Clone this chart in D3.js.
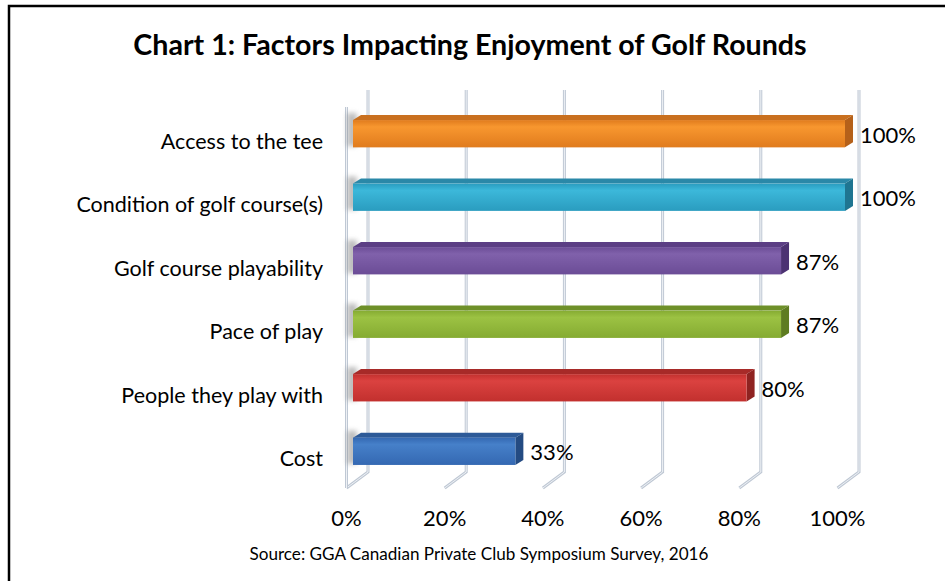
<!DOCTYPE html>
<html>
<head>
<meta charset="utf-8">
<script src="https://cdn.jsdelivr.net/npm/d3@7"></script>
<style>
  body { margin: 0; background: #fff; }
  svg { display: block; font-family: Lato, "Open Sans", sans-serif; }
</style>
</head>
<body>
<div id="chart"></div>
<script>
// Chart data
var categories = ["Access to the tee", "Condition of golf course(s)", "Golf course playability",
  "Pace of play", "People they play with", "Cost"]
var values = [1.00, 1.00, 0.87, 0.87, 0.80, 0.33]
var valueLabels = ["100%", "100%", "87%", "87%", "80%", "33%"]
var tickValues = [0, 0.2, 0.4, 0.6, 0.8, 1.0]
var tickLabels = ["0%", "20%", "40%", "60%", "80%", "100%"]

// bar colours: front (light, dark), top, side
var barColors = [
  {light: "#f8972f", dark: "#e07b1d", top: "#c9701f", side: "#b5611a"},
  {light: "#3cb8da", dark: "#2a9cbf", top: "#2a88a8", side: "#1f7591"},
  {light: "#8061ab", dark: "#6b4c96", top: "#5b3e84", side: "#4c3272"},
  {light: "#9cc243", dark: "#85ab32", top: "#6e9029", side: "#5e7c21"},
  {light: "#db4240", dark: "#c2302e", top: "#a72a28", side: "#8f2321"},
  {light: "#4680c9", dark: "#3468b2", top: "#2d5a98", side: "#244b82"}
]

var width = 945, height = 581

var svg = d3.select("#chart").append("svg")
  .attr("width", width)
  .attr("height", height)

// Outer frame (only top & left edges visible in the picture)
svg.append("rect")
  .attr("x", 9).attr("y", 6)
  .attr("width", 960).attr("height", 600)
  .attr("fill", "none")
  .attr("stroke", "#000")
  .attr("stroke-width", 2.5)

// Title
svg.append("text")
  .attr("x", 470).attr("y", 55)
  .attr("text-anchor", "middle")
  .style("font-size", "28.6px")
  .style("font-weight", "bold")
  .text("Chart 1: Factors Impacting Enjoyment of Golf Rounds")

// Scales: bars sit in the middle of the 3D depth
var xBar = d3.scaleLinear().domain([0, 1]).range([353, 845])
var xBack = d3.scaleLinear().domain([0, 1]).range([368, 859])
var xFront = d3.scaleLinear().domain([0, 1]).range([346.5, 837.5])
var y = d3.scaleBand().domain(categories).range([101, 484]).paddingInner(0.57).paddingOuter(0.3)

var wallTop = 90, wallBottom = 472, depthX = -21.5, depthY = 16

var defs = svg.append("defs")
var blur = defs.append("filter").attr("id", "shadow")
  .attr("x", "-50%").attr("y", "-50%").attr("width", "200%").attr("height", "200%")
blur.append("feGaussianBlur").attr("stdDeviation", 2.5)

barColors.forEach(function(c, i) {
  var g = defs.append("linearGradient").attr("id", "front" + i)
    .attr("x1", 0).attr("y1", 0).attr("x2", 0).attr("y2", 1)
  g.append("stop").attr("offset", "0%").attr("stop-color", c.dark)
  g.append("stop").attr("offset", "25%").attr("stop-color", c.light)
  g.append("stop").attr("offset", "100%").attr("stop-color", c.dark)
})

// Gridlines: back wall vertical + floor diagonal
function gridPath(v) {
  var xb = xBack(v)
  return "M" + xb + "," + wallTop + "L" + xb + "," + wallBottom +
    "L" + (xb + depthX) + "," + (wallBottom + depthY)
}
var grid = svg.append("g")
grid.selectAll(".gridOuter")
  .data(tickValues)
  .enter().append("path")
  .attr("d", gridPath)
  .attr("fill", "none")
  .attr("stroke", "#bfc8d4")
  .attr("stroke-width", 3)
grid.selectAll(".gridInner")
  .data(tickValues)
  .enter().append("path")
  .attr("d", gridPath)
  .attr("fill", "none")
  .attr("stroke", "#eef1f5")
  .attr("stroke-width", 1)

// Left wall front edge
grid.append("line")
  .attr("x1", xFront(0)).attr("x2", xFront(0))
  .attr("y1", wallTop + depthY + 1).attr("y2", wallBottom + depthY)
  .attr("stroke", "#bfc8d4").attr("stroke-width", 3)
grid.append("line")
  .attr("x1", xFront(0)).attr("x2", xFront(0))
  .attr("y1", wallTop + depthY + 1).attr("y2", wallBottom + depthY)
  .attr("stroke", "#eef1f5").attr("stroke-width", 1)

// Bars
var bdx = 8, bdy = -5
var bars = svg.append("g").selectAll("g")
  .data(categories)
  .enter().append("g")

bars.append("rect")
  .attr("x", xBar(0) - 6)
  .attr("y", function(d) { return y(d) - 7 })
  .attr("width", 10)
  .attr("height", y.bandwidth() + 6)
  .attr("fill", "#888")
  .attr("opacity", 0.55)
  .attr("filter", "url(#shadow)")

bars.append("path")
  .attr("d", function(d, i) {
    var x0 = xBar(0), x1 = xBar(values[i]), t = y(d)
    return "M" + x0 + "," + t + "L" + (x0 + bdx) + "," + (t + bdy) +
      "L" + (x1 + bdx) + "," + (t + bdy) + "L" + x1 + "," + t + "Z"
  })
  .attr("fill", function(d, i) { return barColors[i].top })

bars.append("path")
  .attr("d", function(d, i) {
    var x1 = xBar(values[i]), t = y(d), b = t + y.bandwidth()
    return "M" + x1 + "," + t + "L" + (x1 + bdx) + "," + (t + bdy) +
      "L" + (x1 + bdx) + "," + (b + bdy) + "L" + x1 + "," + b + "Z"
  })
  .attr("fill", function(d, i) { return barColors[i].side })

bars.append("rect")
  .attr("x", xBar(0))
  .attr("y", function(d) { return y(d) })
  .attr("width", function(d, i) { return xBar(values[i]) - xBar(0) })
  .attr("height", y.bandwidth())
  .attr("fill", function(d, i) { return "url(#front" + i + ")" })

// Value labels
bars.append("text")
  .attr("x", function(d, i) { return xBar(values[i]) + 15 })
  .attr("y", function(d) { return y(d) + y.bandwidth() / 2 + 9 })
  .style("font-size", "22px")
  .attr("fill", "#000")
  .text(function(d, i) { return valueLabels[i] })

// Category labels
svg.append("g").selectAll("text")
  .data(categories)
  .enter().append("text")
  .attr("x", 323)
  .attr("y", function(d) { return y(d) + y.bandwidth() / 2 + 15 })
  .attr("text-anchor", "end")
  .style("font-size", "21.5px")
  .text(function(d) { return d })

// X axis tick labels
svg.append("g").selectAll("text")
  .data(tickValues)
  .enter().append("text")
  .attr("x", function(d) { return xFront(d) })
  .attr("y", 526)
  .attr("text-anchor", "middle")
  .style("font-size", "22px")
  .text(function(d, i) { return tickLabels[i] })

// Source
svg.append("text")
  .attr("x", 479).attr("y", 560)
  .attr("text-anchor", "middle")
  .style("font-size", "17.1px")
  .text("Source: GGA Canadian Private Club Symposium Survey, 2016")
</script>
</body>
</html>
